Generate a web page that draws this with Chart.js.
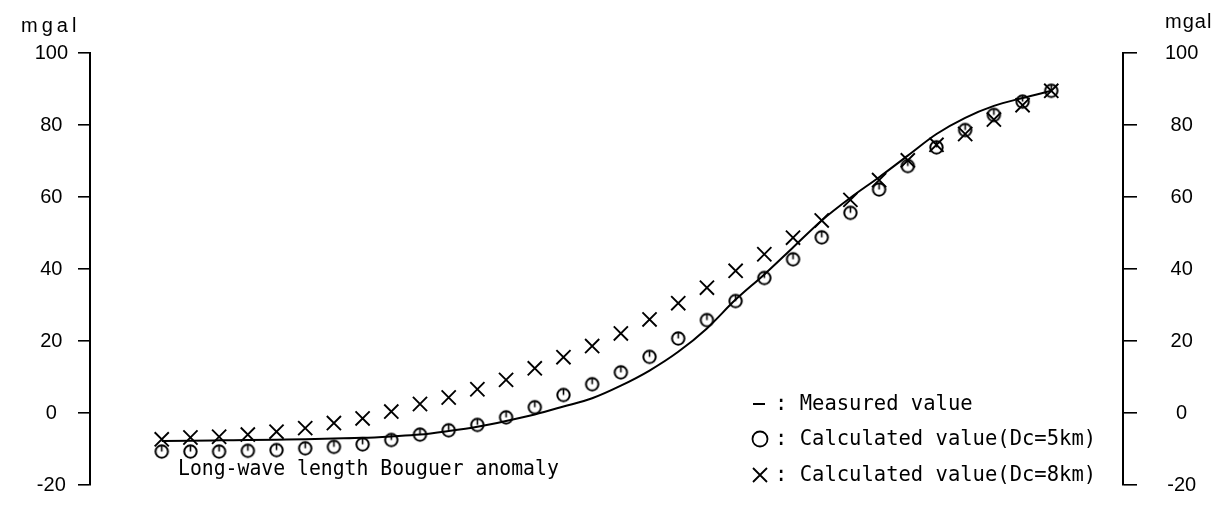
<!DOCTYPE html>
<html>
<head>
<meta charset="utf-8">
<script src="https://cdn.jsdelivr.net/npm/chart.js@4"></script>
<style>
  html, body { margin: 0; padding: 0; background: #fff; }
  #wrap { width: 1229px; height: 508px; }
</style>
</head>
<body>
<div id="wrap"><canvas id="c" width="1229" height="508"></canvas></div>
<script>
// Station index along the profile
const stations = [0,1,2,3,4,5,6,7,8,9,10,11,12,13,14,15,16,17,18,19,20,21,22,23,24,25,26,27,28,29,30,31];

// Measured long-wave Bouguer anomaly (mgal)
const measured = [-7.8,-7.7,-7.6,-7.5,-7.4,-7.3,-7.1,-6.9,-6.5,-6.0,-5.0,-3.8,-2.2,-0.4,1.8,4.1,
                  7.6,11.8,17.0,23.5,31.5,38.5,46.0,53.5,59.8,65.5,71.5,77.5,82.0,85.3,87.5,89.5];

// Calculated anomaly, Dc = 5 km (mgal)
const calcDc5 = [-10.7,-10.7,-10.7,-10.5,-10.3,-9.8,-9.4,-8.7,-7.5,-6.0,-4.8,-3.3,-1.2,1.6,5.0,8.0,
                 11.3,15.6,20.7,25.8,31.1,37.5,42.7,48.8,55.6,62.1,68.6,73.8,78.6,82.8,86.5,89.5];

// Calculated anomaly, Dc = 8 km (mgal)
const calcDc8 = [-7.3,-6.8,-6.6,-6.0,-5.2,-4.2,-2.8,-1.5,0.4,2.5,4.3,6.6,9.2,12.4,15.5,18.6,
                 22.1,26.0,30.5,34.8,39.5,44.1,48.7,53.5,59.2,64.7,70.2,74.5,77.5,81.5,85.5,89.5];

// Value axis ticks
const yTicks = [-20, 0, 20, 40, 60, 80, 100];
const unitLabel = 'mgal';
const noteText = 'Long-wave length Bouguer anomaly';
const legendLabels = [': Measured value', ': Calculated value(Dc=5km)', ': Calculated value(Dc=8km)'];

const pts = (vals) => stations.map((s, i) => ({ x: s, y: vals[i] }));

// circle marker with a small stroke from the top toward the centre
function circleMarker() {
  const c = document.createElement('canvas');
  c.width = 17; c.height = 17;
  const g = c.getContext('2d');
  g.strokeStyle = '#000';
  g.lineWidth = 2;
  g.beginPath();
  g.arc(8.5, 8.5, 6.2, 0, Math.PI * 2);
  g.stroke();
  g.lineWidth = 1.6;
  g.beginPath();
  g.moveTo(8.5, 2.5);
  g.lineTo(8.5, 8.5);
  g.stroke();
  return c;
}

// draw monospace-like text squeezed to a fixed character pitch
function drawPitched(ctx, text, x, y, pitch, font) {
  ctx.save();
  ctx.font = font;
  ctx.textBaseline = 'middle';
  ctx.textAlign = 'left';
  const w = ctx.measureText(text).width;
  const target = text.length * pitch;
  ctx.translate(x, y);
  ctx.scale(target / w, 1);
  ctx.fillText(text, 0, 0);
  ctx.restore();
}

const annotations = {
  id: 'annotations',
  afterDraw(chart) {
    const ctx = chart.ctx;
    ctx.save();
    ctx.fillStyle = '#000';
    ctx.strokeStyle = '#000';

    // unit labels above both axes
    ctx.font = '20px "Liberation Sans"';
    ctx.textBaseline = 'middle';
    ctx.textAlign = 'left';
    ctx.letterSpacing = '4px';
    ctx.fillText(unitLabel, 21, 26);
    ctx.letterSpacing = '1px';
    ctx.fillText(unitLabel, 1165, 22);
    ctx.letterSpacing = '0px';

    const monoFont = '22px "DejaVu Sans Mono"';
    drawPitched(ctx, noteText, 178, 469, 11.9, monoFont);

    // legend
    const rows = [404, 439, 475];
    const sx = 760;
    ctx.lineWidth = 2;
    ctx.beginPath();
    ctx.moveTo(sx - 7, rows[0]);
    ctx.lineTo(sx + 5, rows[0]);
    ctx.stroke();

    ctx.lineWidth = 1.8;
    ctx.beginPath();
    ctx.arc(sx, rows[1], 7.5, 0, Math.PI * 2);
    ctx.stroke();

    ctx.beginPath();
    ctx.moveTo(sx - 7, rows[2] - 7);
    ctx.lineTo(sx + 7, rows[2] + 7);
    ctx.moveTo(sx + 7, rows[2] - 7);
    ctx.lineTo(sx - 7, rows[2] + 7);
    ctx.stroke();

    legendLabels.forEach((t, i) => drawPitched(ctx, t, 775, rows[i], 12.35, monoFont));
    ctx.restore();
  }
};

function valueAxis(position, width, tickLength, padding) {
  return {
    type: 'linear',
    position,
    min: yTicks[0],
    max: yTicks[yTicks.length - 1],
    afterFit(s) {
      // fixed axis width; the end labels may overhang the plot area
      s.width = width;
      s.paddingTop = 0;
      s.paddingBottom = 0;
    },
    grid: { drawOnChartArea: false, drawTicks: true, tickLength, color: '#000', lineWidth: 1.6 },
    border: { display: true, color: '#000', width: 2 },
    ticks: {
      stepSize: yTicks[1] - yTicks[0],
      color: '#000',
      padding,
      crossAlign: 'center',
      font: { family: 'Liberation Sans', size: 20 }
    }
  };
}

new Chart(document.getElementById('c'), {
  type: 'scatter',
  data: {
    datasets: [
      {
        label: 'Measured value',
        type: 'line',
        data: pts(measured),
        borderColor: '#000',
        borderWidth: 2,
        pointRadius: 0,
        cubicInterpolationMode: 'monotone',
        fill: false,
        yAxisID: 'y'
      },
      {
        label: 'Calculated value(Dc=5km)',
        data: pts(calcDc5),
        pointStyle: circleMarker(),
        pointRadius: 7,
        yAxisID: 'y'
      },
      {
        label: 'Calculated value(Dc=8km)',
        data: pts(calcDc8),
        pointStyle: 'crossRot',
        pointRadius: 10,
        borderColor: '#000',
        backgroundColor: '#000',
        borderWidth: 1.9,
        yAxisID: 'y'
      }
    ]
  },
  options: {
    responsive: false,
    animation: false,
    layout: { padding: { top: 53, bottom: 23, left: 0, right: 0 } },
    plugins: { legend: { display: false }, tooltip: { enabled: false } },
    scales: {
      x: { type: 'linear', min: -2.5, max: 33.5, display: false },
      y: valueAxis('left', 90, 12, 10),
      y2: valueAxis('right', 106, 14, 28)
    }
  },
  plugins: [annotations]
});
</script>
</body>
</html>
